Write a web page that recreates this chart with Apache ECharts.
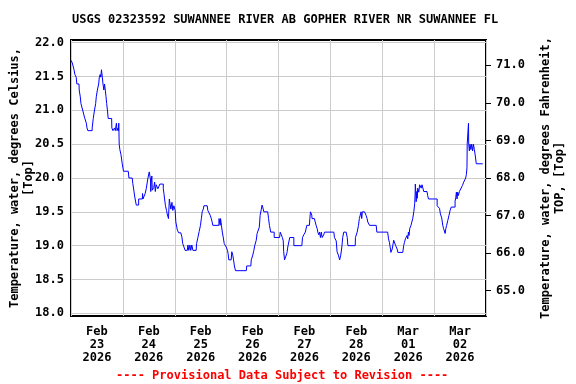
<!DOCTYPE html>
<html>
<head>
<meta charset="utf-8">
<script src="https://cdn.jsdelivr.net/npm/echarts@6/dist/echarts.min.js"></script>
<style>html,body{margin:0;padding:0;background:#fff;}#c{width:576px;height:384px;}</style>
</head>
<body>
<div id="c"></div>
<script>
const titleText = 'USGS 02323592 SUWANNEE RIVER AB GOPHER RIVER NR SUWANNEE FL';
const footerText = '---- Provisional Data Subject to Revision ----';
const leftAxisName = 'Temperature, water, degrees Celsius,\n[Top]';
const rightAxisName = 'Temperature, water, degrees Fahrenheit,\nTOP, [Top]';
// x in hours since Feb 23 2026 00:00
const dayLabels = ['Feb\n23\n2026','Feb\n24\n2026','Feb\n25\n2026','Feb\n26\n2026','Feb\n27\n2026','Feb\n28\n2026','Mar\n01\n2026','Mar\n02\n2026'];
const labelHours = [12,36,60,84,108,132,156,180];
const cTicks = [18.0,18.5,19.0,19.5,20.0,20.5,21.0,21.5,22.0];
const fTicks = [65,66,67,68,69,70,71];

const hours = [
0,0.6,0.6,1.4,1.4,1.8,2.4,2.7,3.7,3.8,4.3,4.6,5.5,6.4,6.4,7.1,7.4,7.8,9.8,9.8,
10.3,10.8,11.4,11.7,12.2,12.8,13.1,13.5,13.8,14.1,14.5,14.8,15.2,15.5,15.9,16.2,16.5,16.9,17.2,18.8,
18.9,19.4,20.2,20.5,21.0,21.3,21.8,22.0,22.1,22.3,22.6,23.1,23.7,24.3,26.5,26.8,28.3,28.6,29.1,29.5,
30.0,30.2,31.3,31.3,33.0,33.1,33.3,34.0,34.3,34.8,35.3,35.6,36.2,36.5,36.8,36.9,37.1,37.4,37.6,38.3,
38.7,39.0,39.4,40.2,41.1,42.7,42.7,43.0,43.3,43.7,44.2,44.5,45.1,45.5,45.8,46.2,46.7,47.1,47.6,48.2,
48.5,49.2,49.8,50.8,51.3,51.7,52.2,52.8,53.8,54.1,54.5,55.0,55.4,55.9,56.4,57.9,58.1,58.7,59.3,59.9,
60.3,60.7,61.2,61.5,63.0,63.3,64.4,64.9,65.3,65.6,68.4,68.5,69.0,69.2,69.6,70.0,70.4,70.9,71.8,72.4,
72.7,73.0,74.1,74.4,74.9,75.2,75.6,76.1,81.1,81.3,83.2,83.4,84.1,84.6,85.0,85.7,86.1,86.6,87.1,87.3,
87.5,88.0,88.4,88.7,89.2,91.0,91.4,91.8,92.4,94.0,94.0,96.5,96.8,97.5,97.8,98.2,98.4,98.8,99.7,99.8,
100.0,100.3,100.8,101.2,103.1,103.1,106.8,107.1,107.7,108.4,109.1,110.3,110.5,110.8,111.1,111.4,111.5,112.6,113.0,113.4,
113.9,114.2,114.6,115.0,115.4,115.8,116.2,116.5,116.9,117.3,121.6,121.9,122.7,123.1,123.7,124.3,124.8,125.3,125.7,126.2,
127.3,127.8,128.1,131.5,131.6,132.4,133.0,133.4,134.0,134.2,134.5,134.8,135.8,136.5,137.0,137.3,138.1,141.2,141.5,146.5,
146.9,147.3,147.8,148.0,148.4,148.6,149.3,149.6,149.8,150.2,150.9,151.2,153.5,153.9,154.3,154.7,155.5,155.8,156.1,156.4,
156.7,157.3,158.1,158.6,159.0,159.2,159.3,159.5,159.7,160.0,160.2,160.4,160.9,161.3,162.0,162.4,162.7,163.2,164.7,165.0,
165.4,169.4,169.4,170.5,170.9,171.5,172.0,172.4,173.1,173.4,173.8,174.3,174.9,175.4,175.9,177.7,177.7,178.0,178.3,178.6,
178.9,179.2,179.7,180.1,181.1,181.7,182.0,182.6,182.9,183.2,183.3,183.5,183.9,184.0,184.3,184.6,185.0,185.4,185.8,186.2,
186.6,187.0,187.5,190.5
];
const tempC = [
21.74,21.74,21.70,21.70,21.60,21.53,21.49,21.39,21.39,21.30,21.20,21.10,20.99,20.99,20.88,20.81,20.74,20.70,20.70,20.74,
20.88,20.99,21.10,21.20,21.30,21.39,21.49,21.53,21.49,21.60,21.49,21.39,21.30,21.39,21.29,21.20,21.10,20.99,20.88,20.88,
20.74,20.70,20.74,20.70,20.81,20.70,20.74,20.70,20.81,20.50,20.42,20.35,20.21,20.10,20.10,20.00,20.00,19.92,19.81,19.72,
19.71,19.60,19.60,19.69,19.69,19.77,19.69,19.69,19.77,19.84,19.94,20.00,20.09,20.03,19.97,19.80,19.94,20.03,19.82,19.86,
19.94,19.80,19.90,19.84,19.91,19.91,19.84,19.77,19.69,19.59,19.52,19.47,19.40,19.69,19.62,19.54,19.64,19.52,19.59,19.52,
19.35,19.23,19.19,19.19,19.13,19.03,19.01,18.93,18.93,19.01,18.93,19.01,18.93,19.01,18.93,18.93,19.03,19.12,19.21,19.30,
19.40,19.50,19.54,19.59,19.59,19.52,19.45,19.40,19.35,19.30,19.30,19.40,19.30,19.40,19.30,19.20,19.13,19.03,18.98,18.93,
18.88,18.79,18.79,18.91,18.85,18.79,18.70,18.63,18.63,18.70,18.70,18.79,18.86,18.93,19.00,19.08,19.18,19.20,19.27,19.35,
19.45,19.53,19.60,19.57,19.50,19.50,19.40,19.30,19.20,19.20,19.12,19.12,19.20,19.20,19.12,19.07,18.91,18.79,18.79,18.88,
18.91,18.98,19.00,19.12,19.12,19.00,19.00,19.12,19.16,19.20,19.30,19.30,19.40,19.50,19.50,19.45,19.40,19.40,19.35,19.30,
19.25,19.20,19.16,19.20,19.12,19.20,19.12,19.12,19.16,19.20,19.20,19.12,19.07,18.91,18.86,18.79,18.86,18.98,19.12,19.20,
19.20,19.12,19.00,19.00,19.12,19.20,19.30,19.40,19.40,19.50,19.40,19.50,19.50,19.45,19.40,19.35,19.30,19.30,19.20,19.20,
19.10,19.05,18.95,18.90,18.90,18.95,19.08,19.10,19.10,19.00,18.95,18.90,18.90,19.00,19.05,19.10,19.15,19.10,19.20,19.15,
19.25,19.30,19.40,19.50,19.62,19.75,19.91,19.80,19.65,19.80,19.70,19.85,19.79,19.90,19.85,19.90,19.90,19.80,19.80,19.74,
19.69,19.69,19.59,19.55,19.47,19.41,19.30,19.25,19.18,19.25,19.30,19.37,19.45,19.52,19.57,19.57,19.66,19.71,19.79,19.69,
19.79,19.74,19.80,19.82,19.89,19.94,19.95,20.00,20.05,20.15,20.50,20.50,20.81,20.50,20.40,20.50,20.42,20.50,20.40,20.50,
20.42,20.34,20.21,20.21
];

const cMin = 17.96, cMax = 22.04;
const FONT = '"DejaVu Sans Mono", monospace';
const seriesData = hours.map((h, i) => [h, tempC[i]]);

const chart = echarts.init(document.getElementById('c'), null, {renderer: 'canvas'});
chart.setOption({
  animation: false,
  backgroundColor: '#ffffff',
  title: [
    {text: titleText, left: 72, top: 14, padding: 0,
     textStyle: {fontFamily: FONT, fontWeight: 'bold', fontSize: 12, color: '#000'}},
    {text: footerText, left: 116, top: 370, padding: 0,
     textStyle: {fontFamily: FONT, fontWeight: 'bold', fontSize: 12, color: '#ff0000'}}
  ],
  grid: {left: 71, right: 90, top: 40, bottom: 68, show: true,
         outerBoundsMode: 'none', containLabel: false,
         borderColor: '#000', borderWidth: 2, backgroundColor: 'transparent'},
  xAxis: {
    type: 'value', min: 0, max: 192, interval: 24,
    axisLine: {show: false},
    axisTick: {show: false},
    splitLine: {show: true, lineStyle: {color: '#cccccc', width: 1}},
    axisLabel: {
      customValues: labelHours,
      margin: 9,
      fontFamily: FONT, fontWeight: 'bold', fontSize: 12, color: '#000', lineHeight: 13,
      formatter: v => dayLabels[Math.round((v - 12) / 24)]
    }
  },
  yAxis: [
    {
      type: 'value', min: cMin, max: cMax, position: 'left',
      name: leftAxisName, nameLocation: 'middle', nameRotate: 90, nameGap: 35,
      nameMoveOverlap: false,
      nameTextStyle: {fontFamily: FONT, fontWeight: 'bold', fontSize: 12, color: '#000', lineHeight: 14},
      axisLine: {show: false},
      axisTick: {show: false, customValues: cTicks},
      splitLine: {show: true, lineStyle: {color: '#cccccc', width: 1}},
      axisLabel: {customValues: cTicks, margin: 7,
        fontFamily: FONT, fontWeight: 'bold', fontSize: 12, color: '#000',
        formatter: v => v.toFixed(1)}
    },
    {
      type: 'value', min: cMin * 1.8 + 32, max: cMax * 1.8 + 32, position: 'right',
      alignTicks: false,
      name: rightAxisName, nameLocation: 'middle', nameRotate: 90, nameGap: 53,
      nameTextStyle: {fontFamily: FONT, fontWeight: 'bold', fontSize: 12, color: '#000', lineHeight: 14},
      axisLine: {show: false},
      axisTick: {show: true, inside: false, length: 5, customValues: fTicks, lineStyle: {color: '#000', width: 1}},
      splitLine: {show: false},
      axisLabel: {customValues: fTicks, margin: 10,
        fontFamily: FONT, fontWeight: 'bold', fontSize: 12, color: '#000',
        formatter: v => v.toFixed(1)}
    }
  ],
  series: [{
    type: 'line', yAxisIndex: 0, data: seriesData,
    showSymbol: false, symbol: 'none',
    lineStyle: {color: '#0000ff', width: 1},
    itemStyle: {color: '#0000ff'}
  }]
});
</script>
</body>
</html>
